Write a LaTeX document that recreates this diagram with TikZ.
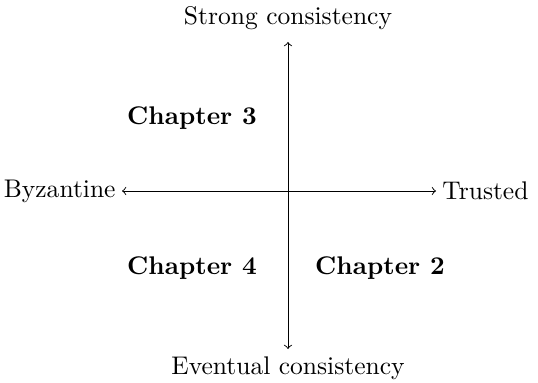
\documentclass[tikz,border=0pt]{standalone}
\begin{document}
\begin{tikzpicture}[x=0.427pt,y=-0.427pt,
  lbl/.style={inner sep=0pt, font=\fontsize{10.9}{13}\selectfont},
  chap/.style={inner sep=0pt, font=\fontsize{10.9}{13}\selectfont\bfseries},
  axis/.style={<->, line width=0.4pt}]
\useasboundingbox (0,0) rectangle (538,383);
\node[lbl] (top) at (288,18) {Strong consistency};
\node[lbl] (bot) at (288,368) {Eventual consistency};
\node[lbl, anchor=east] (left) at (116,191) {Byzantine};
\node[lbl, anchor=west] (right) at (442,191) {Trusted};
\coordinate (t) at (288,42);
\coordinate (b) at (288,349);
\coordinate (l) at (122,191);
\coordinate (r) at (436,191);
\draw[axis] (t) -- (b);
\draw[axis] (l) -- (r);
\node[chap] (c3) at (192,118) {Chapter 3};
\node[chap] (c4) at (192,268) {Chapter 4};
\node[chap] (c2) at (380,268) {Chapter 2};
\end{tikzpicture}
\end{document}
